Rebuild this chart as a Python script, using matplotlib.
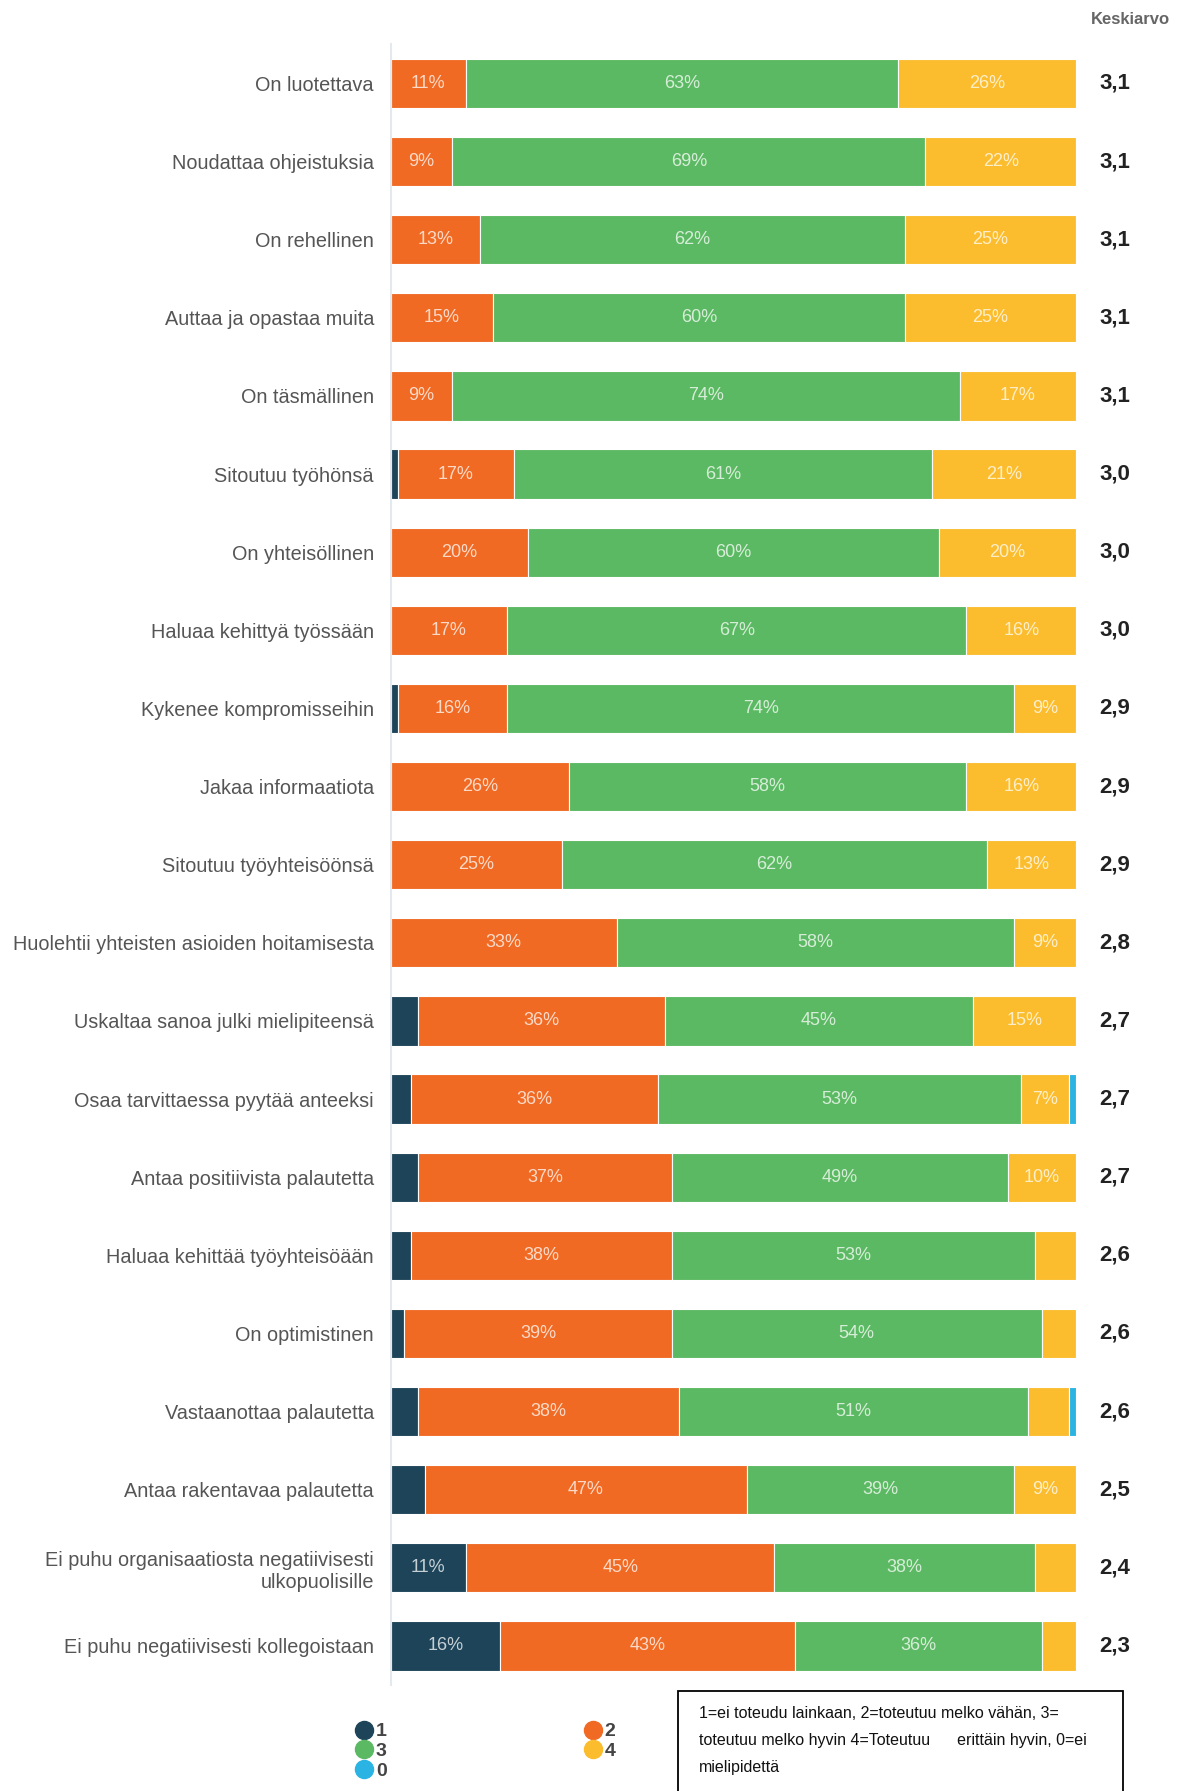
import numpy as np
import matplotlib
matplotlib.use("Agg")
import matplotlib.pyplot as plt
from matplotlib.lines import Line2D
from matplotlib.patches import Rectangle

plt.rcParams['font.family'] = ['Liberation Sans', 'DejaVu Sans']

labels = [
    "On luotettava",
    "Noudattaa ohjeistuksia",
    "On rehellinen",
    "Auttaa ja opastaa muita",
    "On täsmällinen",
    "Sitoutuu työhönsä",
    "On yhteisöllinen",
    "Haluaa kehittyä työssään",
    "Kykenee kompromisseihin",
    "Jakaa informaatiota",
    "Sitoutuu työyhteisöönsä",
    "Huolehtii yhteisten asioiden hoitamisesta",
    "Uskaltaa sanoa julki mielipiteensä",
    "Osaa tarvittaessa pyytää anteeksi",
    "Antaa positiivista palautetta",
    "Haluaa kehittää työyhteisöään",
    "On optimistinen",
    "Vastaanottaa palautetta",
    "Antaa rakentavaa palautetta",
    "Ei puhu organisaatiosta negatiivisesti\nulkopuolisille",
    "Ei puhu negatiivisesti kollegoistaan",
]

# share of answers per option (%)
s1 = [0, 0, 0, 0, 0, 1, 0, 0, 1, 0, 0, 0, 4, 3, 4, 3, 2, 4, 5, 11, 16]
s2 = [11, 9, 13, 15, 9, 17, 20, 17, 16, 26, 25, 33, 36, 36, 37, 38, 39, 38, 47, 45, 43]
s3 = [63, 69, 62, 60, 74, 61, 60, 67, 74, 58, 62, 58, 45, 53, 49, 53, 54, 51, 39, 38, 36]
s4 = [26, 22, 25, 25, 17, 21, 20, 16, 9, 16, 13, 9, 15, 7, 10, 6, 5, 6, 9, 6, 5]
s0 = [0, 0, 0, 0, 0, 0, 0, 0, 0, 0, 0, 0, 0, 1, 0, 0, 0, 1, 0, 0, 0]
means = ["3,1", "3,1", "3,1", "3,1", "3,1", "3,0", "3,0", "3,0", "2,9", "2,9", "2,9",
         "2,8", "2,7", "2,7", "2,7", "2,6", "2,6", "2,6", "2,5", "2,4", "2,3"]

series = [("1", s1, "#1d4459"), ("2", s2, "#f06a24"), ("3", s3, "#5cb963"),
          ("4", s4, "#fbbd2e"), ("0", s0, "#2bb3e3")]

fig = plt.figure(figsize=(11.91, 17.91), dpi=100)
ax = fig.add_axes([0.328, 0.0592, 0.5755, 0.916])

y = np.arange(len(labels))
left = np.zeros(len(labels))
for name, vals, col in series:
    vals = np.array(vals, dtype=float)
    ax.barh(y, vals, left=left, height=0.63, color=col, edgecolor="white",
            linewidth=0.8, label=name)
    for yi, (l, v) in enumerate(zip(left, vals)):
        if v >= 7:
            ax.text(l + v / 2, yi, f"{int(v)}%", ha="center", va="center",
                    color="white", alpha=0.75, fontsize=13)
    left += vals

ax.set_xlim(0, 100)
ax.set_ylim(len(labels) - 0.5, -0.5)
ax.set_yticks(y)
ax.set_yticklabels(labels, fontsize=14.3, color="#555555")
ax.tick_params(axis="y", length=0, pad=12)
ax.set_xticks([])
for side in ["top", "right", "bottom"]:
    ax.spines[side].set_visible(False)
ax.spines["left"].set_color("#e3e9ee")
ax.spines["left"].set_linewidth(1.5)

for yi, m in enumerate(means):
    ax.text(1.034, yi, m, transform=ax.get_yaxis_transform(), ha="left",
            va="center", fontsize=16, fontweight="bold", color="#222222")
fig.text(0.949, 0.989, "Keskiarvo", ha="center", va="center", fontsize=12,
         fontweight="bold", color="#666666")

# legend: column 1 -> 1, 3, 0 ; column 2 -> 2, 4
cols = {name: col for name, _, col in series}
order = ["1", "3", "0", "2", "4"]
handles = [Line2D([], [], marker="o", linestyle="", markersize=13,
                  color=cols[k]) for k in order]
fig.legend(handles, order, ncol=2, loc="upper left",
           bbox_to_anchor=(0.292, 0.0435), frameon=False,
           handlelength=0.7, handletextpad=0.25, labelspacing=0.1,
           columnspacing=10.25, borderpad=0, prop={"weight": "bold", "size": 14})
for t in fig.legends[0].get_texts():
    t.set_color("#444444")

fig.patches.append(Rectangle((678 / 1191, -0.01), 445 / 1191, 1 - 1691 / 1791 + 0.01,
                             transform=fig.transFigure, fill=False,
                             edgecolor="black", linewidth=1.3))
fig.text(699 / 1191, 1 - 1706 / 1791,
         "1=ei toteudu lainkaan, 2=toteutuu melko vähän, 3=\n"
         "toteutuu melko hyvin 4=Toteutuu      erittäin hyvin, 0=ei\n"
         "mielipidettä",
         ha="left", va="top", fontsize=11.5, linespacing=2.0,
         color="#111111")

fig.savefig("out.png", dpi=100, facecolor="white")
